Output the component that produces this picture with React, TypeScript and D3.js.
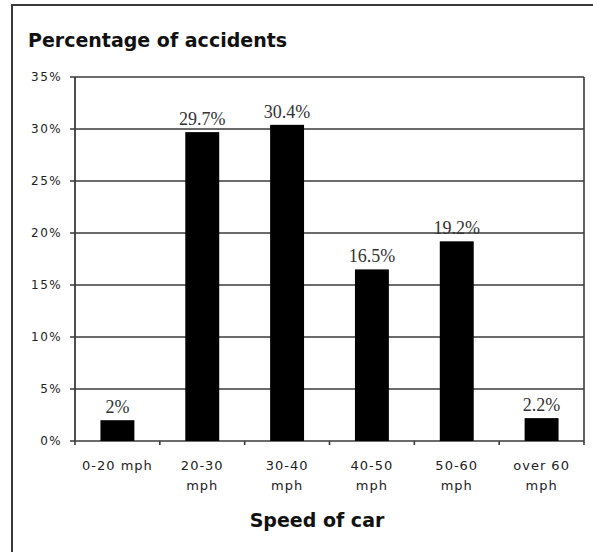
import * as d3 from "d3";

const categories = ["0-20 mph", "20-30 mph", "30-40 mph", "40-50 mph", "50-60 mph", "over 60 mph"];
const labelLine1 = ["0-20 mph", "20-30", "30-40", "40-50", "50-60", "over 60"];
const labelLine2 = ["", "mph", "mph", "mph", "mph", "mph"];
const values = [2, 29.7, 30.4, 16.5, 19.2, 2.2];
const valueLabels = ["2%", "29.7%", "30.4%", "16.5%", "19.2%", "2.2%"];
const yTicks = [0, 5, 10, 15, 20, 25, 30, 35];

const W = 593;
const H = 552;
const left = 75;
const right = 584;
const top = 77;
const bottom = 441;
const lineColor = "#3a3a3a";
const sans = "'DejaVu Sans', Verdana, sans-serif";

export default function App() {
  const x = d3.scaleBand<string>().domain(categories).range([left, right]).padding(0);
  const y = d3.scaleLinear().domain([0, 35]).range([bottom, top]);
  const bw = x.bandwidth() * 0.4;
  const bounds = [...categories.map((c) => x(c)!), right];

  return (
    <svg width={W} height={H} style={{ position: "absolute", left: 0, top: 0, background: "#fff" }}>
      {/* outer frame, cut off at right and bottom */}
      <rect x={12} y={5} width={W} height={H} fill="#fff" stroke={lineColor} strokeWidth={2} />

      <text x={28} y={47} fontFamily={sans} fontWeight="bold" fontSize={19} fill="#111">
        Percentage of accidents
      </text>

      {/* gridlines + y ticks */}
      {yTicks.map((t) => (
        <g key={t}>
          <line x1={left - 5} x2={right} y1={y(t)} y2={y(t)} stroke={lineColor} strokeWidth={1.6} />
          <text
            x={62}
            y={y(t)}
            dy="0.35em"
            textAnchor="end"
            fontFamily={sans}
            fontSize={12}
            letterSpacing={1.4}
            fill="#222"
          >
            {t}%
          </text>
        </g>
      ))}

      {/* axes */}
      <line x1={left} x2={left} y1={top} y2={bottom} stroke={lineColor} strokeWidth={1.8} />
      <line x1={right} x2={right} y1={top} y2={bottom} stroke={lineColor} strokeWidth={1.6} />
      {bounds.map((b, i) => (
        <line key={i} x1={b} x2={b} y1={bottom} y2={bottom + 4} stroke={lineColor} strokeWidth={1.6} />
      ))}

      {/* bars */}
      {categories.map((c, i) => {
        const cx = x(c)! + x.bandwidth() / 2;
        return (
          <g key={c}>
            <rect x={cx - bw / 2} y={y(values[i])} width={bw} height={bottom - y(values[i])} fill="#000" />
            <text
              x={cx}
              y={y(values[i]) - 7}
              textAnchor="middle"
              fontFamily="'Liberation Serif', 'Times New Roman', serif"
              fontSize={18}
              fill="#333"
            >
              {valueLabels[i]}
            </text>
            <text x={cx} y={470} textAnchor="middle" fontFamily={sans} fontSize={13} letterSpacing={1} fill="#222">
              {labelLine1[i]}
            </text>
            <text x={cx} y={490} textAnchor="middle" fontFamily={sans} fontSize={13} letterSpacing={1} fill="#222">
              {labelLine2[i]}
            </text>
          </g>
        );
      })}

      <text x={317} y={527} textAnchor="middle" fontFamily={sans} fontWeight="bold" fontSize={19} fill="#111">
        Speed of car
      </text>
    </svg>
  );
}
